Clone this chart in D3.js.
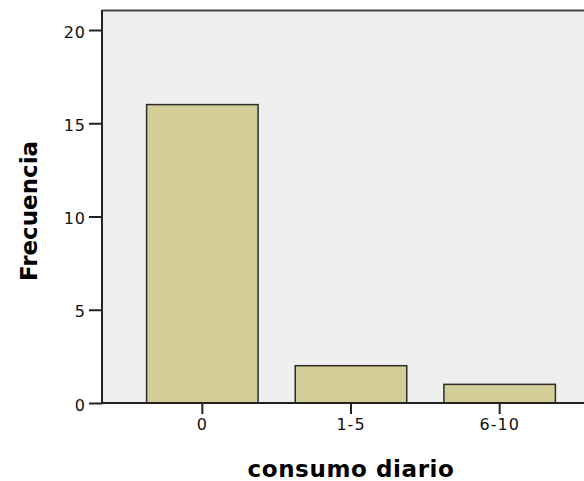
<!DOCTYPE html>
<html>
<head>
<meta charset="utf-8">
<script src="https://cdn.jsdelivr.net/npm/d3@7"></script>
<style>
  html, body { margin: 0; padding: 0; background: #ffffff; }
  svg { display: block; }
</style>
</head>
<body>
<svg id="chart" width="584" height="481"></svg>
<script>
const categories = ["0", "1-5", "6-10"];
const frequencies = [16, 2, 1];
const yTicks = [0, 5, 10, 15, 20];
const xTitle = "consumo diario";
const yTitle = "Frecuencia";

const svg = d3.select("#chart");
const plot = { left: 102, top: 10, right: 600, bottom: 403 };

const x = d3.scaleBand()
  .domain(categories)
  .range([plot.left, plot.right])
  .paddingInner(0.25)
  .paddingOuter(0.3);

const y = d3.scaleLinear()
  .domain([0, 20])
  .range([plot.bottom, 30]);

// plot background
svg.append("rect")
  .attr("x", plot.left).attr("y", plot.top)
  .attr("width", plot.right - plot.left)
  .attr("height", plot.bottom - plot.top)
  .attr("fill", "#efefef");

// top frame line
svg.append("line")
  .attr("x1", plot.left).attr("x2", plot.right)
  .attr("y1", plot.top + 0.5).attr("y2", plot.top + 0.5)
  .attr("stroke", "#444").attr("stroke-width", 2);

// bars
svg.append("g").selectAll("rect")
  .data(categories)
  .join("rect")
  .attr("x", d => x(d))
  .attr("width", x.bandwidth())
  .attr("y", (d, i) => y(frequencies[i]))
  .attr("height", (d, i) => y(0) - y(frequencies[i]))
  .attr("fill", "#d3ce97")
  .attr("stroke", "#2b2b2b")
  .attr("stroke-width", 1.5);

// y axis
const yAxis = d3.axisLeft(y).tickValues(yTicks).tickSize(13).tickPadding(3).tickSizeOuter(0);
const gy = svg.append("g")
  .attr("transform", `translate(${plot.left},0)`)
  .call(yAxis);
gy.select(".domain").attr("d", `M0,${plot.top}V${plot.bottom}`).attr("stroke", "#222").attr("stroke-width", 2);
gy.selectAll(".tick line").attr("stroke", "#222").attr("stroke-width", 2);
gy.selectAll(".tick text")
  .attr("font-family", "DejaVu Sans, sans-serif")
  .attr("font-size", 16)
  .attr("letter-spacing", 1)
  .attr("dy", "0.45em")
  .attr("fill", "#111");

// x axis
const xAxis = d3.axisBottom(x).tickSize(11).tickPadding(5).tickSizeOuter(0);
const gx = svg.append("g")
  .attr("transform", `translate(0,${plot.bottom})`)
  .call(xAxis);
gx.select(".domain").attr("d", `M${plot.left},0H${plot.right}`).attr("stroke", "#222").attr("stroke-width", 2);
gx.selectAll(".tick line").attr("stroke", "#222").attr("stroke-width", 2);
gx.selectAll(".tick text")
  .attr("font-family", "DejaVu Sans, sans-serif")
  .attr("font-size", 16)
  .attr("letter-spacing", 1)
  .attr("fill", "#111");

// titles
svg.append("text")
  .attr("x", (plot.left + plot.right) / 2)
  .attr("y", 477)
  .attr("text-anchor", "middle")
  .attr("font-family", "DejaVu Sans, sans-serif")
  .attr("font-weight", "bold")
  .attr("font-size", 23)
  .attr("letter-spacing", 0.6)
  .attr("fill", "#000")
  .text(xTitle);

svg.append("text")
  .attr("transform", `translate(37,211) rotate(-90)`)
  .attr("text-anchor", "middle")
  .attr("font-family", "DejaVu Sans, sans-serif")
  .attr("font-weight", "bold")
  .attr("font-size", 23)
  .attr("fill", "#000")
  .text(yTitle);
</script>
</body>
</html>
